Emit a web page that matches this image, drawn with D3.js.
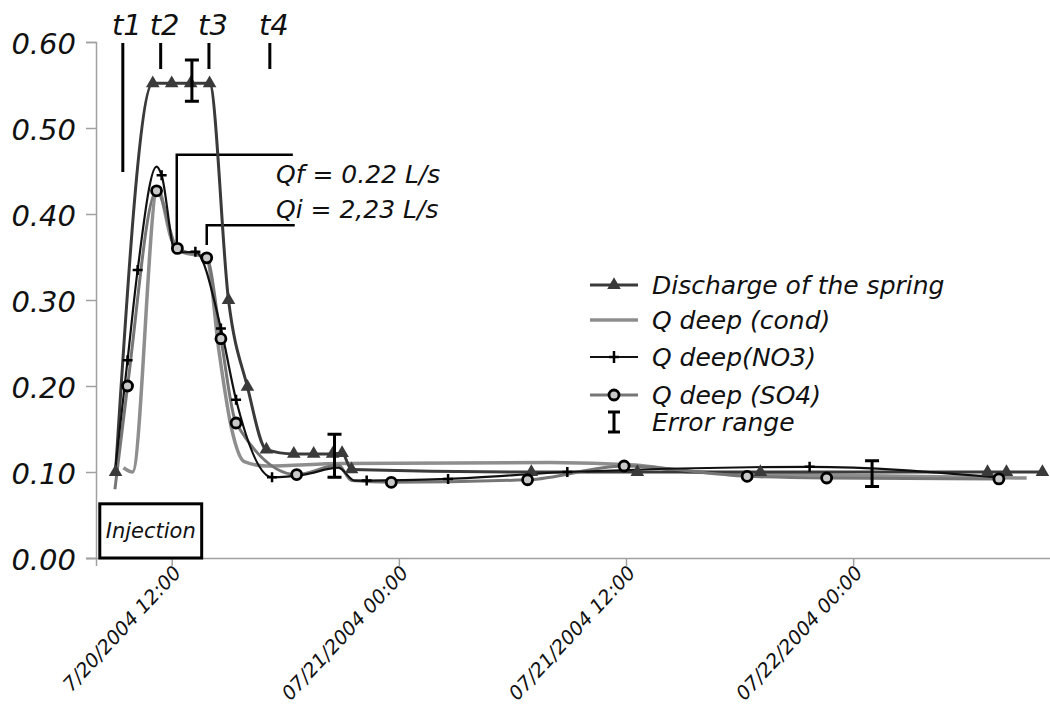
<!DOCTYPE html>
<html lang="en">
<head>
<meta charset="utf-8">
<title>Discharge of the spring</title>
<script src="https://cdn.jsdelivr.net/npm/d3@7"></script>
<style>
  body { margin: 0; background: #fff; }
  text { font-family: "DejaVu Sans", sans-serif; font-style: italic; fill: #111; }
</style>
</head>
<body>
<div id="chart"></div>
<script>
// times are "day hh:mm" in July 2004, values in m3/s
var springTime = ["20 09:02", "20 11:00", "20 12:00", "20 13:00", "20 14:00", "20 15:00", "20 16:00",
  "20 17:00", "20 18:27", "20 19:30", "20 20:30", "20 21:00", "20 21:30", "21 07:00", "21 12:36",
  "21 19:06", "22 07:06", "22 08:06", "22 10:00"];
var springVal = [0.100, 0.552, 0.552, 0.552, 0.552, 0.300, 0.199, 0.126, 0.121, 0.121, 0.121, 0.122,
  0.103, 0.100, 0.100, 0.100, 0.100, 0.100, 0.100];

var condTime = ["20 09:27", "20 09:56", "20 11:15", "20 12:00", "20 12:40", "20 13:50", "20 14:30",
  "20 15:10", "20 15:50", "20 17:00", "20 21:00", "21 08:00", "21 12:30", "21 15:30", "22 00:00", "22 09:10"];
var condVal = [0.105, 0.100, 0.430, 0.370, 0.355, 0.350, 0.240, 0.150, 0.112, 0.107, 0.110, 0.111,
  0.108, 0.100, 0.096, 0.093];

var no3Time = ["20 09:00", "20 09:40", "20 10:12", "20 11:12", "20 11:28", "20 12:12", "20 13:15",
  "20 14:36", "20 15:24", "20 17:18", "20 19:00", "20 20:48", "20 21:40", "20 22:18", "21 02:36",
  "21 08:54", "21 21:42", "22 07:30"];
var no3Val = [0.100, 0.230, 0.335, 0.455, 0.445, 0.355, 0.356, 0.267, 0.184, 0.094, 0.097, 0.105,
  0.090, 0.090, 0.092, 0.100, 0.106, 0.094];
var no3Mark = [0, 1, 1, 0, 1, 0, 1, 1, 1, 1, 0, 0, 0, 1, 1, 1, 1, 0];

var so4Time = ["20 09:00", "20 09:40", "20 11:12", "20 12:18", "20 13:51", "20 14:36", "20 15:24",
  "20 18:36", "20 20:48", "20 21:30", "20 23:36", "21 06:48", "21 11:54", "21 18:24", "21 22:36", "22 07:42"];
var so4Val = [0.080, 0.200, 0.427, 0.360, 0.349, 0.255, 0.157, 0.097, 0.108, 0.090, 0.088, 0.091,
  0.107, 0.095, 0.093, 0.092];
var so4Mark = [0, 1, 1, 1, 1, 1, 1, 1, 0, 0, 1, 1, 1, 1, 1, 1];

// error range: time, centre, half width
var errTime = ["20 13:04", "20 20:36", "22 01:00"];
var errVal = [0.555, 0.119, 0.098];
var errHalf = [0.024, 0.025, 0.015];

var tLabels = ["t1", "t2", "t3", "t4"];
var tTime = ["20 09:25", "20 11:25", "20 13:58", "20 17:11"];

var yTicks = [0, 0.1, 0.2, 0.3, 0.4, 0.5, 0.6];
var xTicks = ["20 08:00", "20 12:00", "21 00:00", "21 12:00", "22 00:00"];
var xTickLabels = ["", "7/20/2004 12:00", "07/21/2004 00:00", "07/21/2004 12:00", "07/22/2004 00:00"];

var legendNames = ["Discharge of the spring", "Q deep (cond)", "Q deep(NO3)", "Q deep (SO4)", "Error range"];

var parse = function (s) { return d3.timeParse("%Y-%m-%d %H:%M")("2004-07-" + s); };
function zip(ts, vs, ms) {
  return ts.map(function (t, i) { return { t: parse(t), v: vs[i], m: ms ? ms[i] : 1 }; });
}
var spring = zip(springTime, springVal);
var cond = zip(condTime, condVal);
var no3 = zip(no3Time, no3Val, no3Mark);
var so4 = zip(so4Time, so4Val, so4Mark);

var width = 1050, height = 712;
var svg = d3.select("#chart").append("svg")
  .attr("width", width).attr("height", height);

var x = d3.scaleTime()
  .domain([parse("20 08:00"), parse("22 10:24")])
  .range([96, 1050]);
var y = d3.scaleLinear()
  .domain([0, 0.6])
  .range([558, 42]);

// Y axis
var yAxis = svg.append("g")
  .attr("transform", "translate(96,0)")
  .call(d3.axisLeft(y).tickValues(yTicks).tickSize(10).tickFormat(d3.format(".2f")));
yAxis.select(".domain").attr("stroke", "#a0a0a0").attr("stroke-width", 1.5);
yAxis.selectAll(".tick line").attr("stroke", "#a0a0a0").attr("stroke-width", 1.5);
yAxis.selectAll(".tick text")
  .attr("x", -20).attr("dy", "0.4em")
  .style("font-size", "29px").style("font-family", "DejaVu Sans").style("font-style", "italic").attr("fill", "#111");

// X axis
var xAxis = svg.append("g")
  .attr("transform", "translate(0,558)")
  .call(d3.axisBottom(x).tickValues(xTicks.map(parse)).tickSize(8)
    .tickFormat(function (d, i) { return xTickLabels[i]; }));
xAxis.select(".domain").attr("stroke", "#a0a0a0").attr("stroke-width", 1.5).attr("d", "M86,0.5H1050");
xAxis.selectAll(".tick line").attr("stroke", "#a0a0a0").attr("stroke-width", 1.5);
xAxis.selectAll(".tick text")
  .attr("text-anchor", "end")
  .attr("transform", "translate(5,11) rotate(-47)")
  .attr("x", 0).attr("y", 0).attr("dy", "0.35em")
  .style("font-size", "19.5px").style("font-family", "DejaVu Sans").style("font-style", "italic").attr("fill", "#111");

var curve = d3.curveMonotoneX;
var line = d3.line().x(function (d) { return x(d.t); }).y(function (d) { return y(d.v); }).curve(curve);

// Injection box
svg.append("rect")
  .attr("x", x(parse("20 08:12"))).attr("y", y(0.063))
  .attr("width", x(parse("20 13:35")) - x(parse("20 08:12")))
  .attr("height", y(0) - y(0.063))
  .attr("fill", "#fff").attr("stroke", "#000").attr("stroke-width", 3);
svg.append("text")
  .attr("x", (x(parse("20 08:12")) + x(parse("20 13:35"))) / 2)
  .attr("y", (y(0) + y(0.063)) / 2).attr("dy", "0.36em")
  .attr("text-anchor", "middle").style("font-size", "21px")
  .text("Injection");

// t markers
svg.selectAll(".tline").data(tTime).enter().append("line")
  .attr("x1", function (d) { return x(parse(d)); })
  .attr("x2", function (d) { return x(parse(d)); })
  .attr("y1", 43)
  .attr("y2", function (d, i) { return i === 0 ? 172 : 69; })
  .attr("stroke", "#000").attr("stroke-width", 3);
svg.selectAll(".tlab").data(tLabels).enter().append("text")
  .attr("x", function (d, i) { return x(parse(tTime[i])) + 4; })
  .attr("y", 35)
  .attr("text-anchor", "middle").style("font-size", "29px")
  .text(function (d) { return d; });

// leader lines for Qf / Qi
svg.append("path")
  .attr("d", "M" + x(parse("20 12:16")) + "," + y(0.36) + "V" + y(0.469) + "H" + x(parse("20 18:24")))
  .attr("fill", "none").attr("stroke", "#000").attr("stroke-width", 2.5);
svg.append("path")
  .attr("d", "M" + x(parse("20 13:51")) + "," + y(0.364) + "V" + y(0.387) + "H" + x(parse("20 18:30")))
  .attr("fill", "none").attr("stroke", "#000").attr("stroke-width", 2.5);
svg.append("text").attr("x", 276).attr("y", 183).style("font-size", "25px").text("Qf = 0.22 L/s");
svg.append("text").attr("x", 276).attr("y", 218).style("font-size", "25px").text("Qi = 2,23 L/s");

// series lines
svg.append("path").datum(cond).attr("d", line)
  .attr("fill", "none").attr("stroke", "#8e8e8e").attr("stroke-width", 3.5);
svg.append("path").datum(spring).attr("d", line)
  .attr("fill", "none").attr("stroke", "#3a3a3a").attr("stroke-width", 3);
svg.append("path").datum(so4).attr("d", line)
  .attr("fill", "none").attr("stroke", "#767676").attr("stroke-width", 3);
svg.append("path").datum(no3).attr("d", line)
  .attr("fill", "none").attr("stroke", "#111").attr("stroke-width", 2.2);

// markers
var tri = d3.symbol(d3.symbolTriangle, 80);
svg.selectAll(".tri").data(spring).enter().append("path")
  .attr("d", tri)
  .attr("transform", function (d) { return "translate(" + x(d.t) + "," + y(d.v) + ")"; })
  .attr("fill", "#3a3a3a");
svg.selectAll(".plus").data(no3.filter(function (d) { return d.m; })).enter().append("path")
  .attr("d", "M-5,0H5M0,-5V5")
  .attr("transform", function (d) { return "translate(" + x(d.t) + "," + y(d.v) + ")"; })
  .attr("stroke", "#000").attr("stroke-width", 2.5);
svg.selectAll(".circ").data(so4.filter(function (d) { return d.m; })).enter().append("circle")
  .attr("cx", function (d) { return x(d.t); })
  .attr("cy", function (d) { return y(d.v); })
  .attr("r", 5)
  .attr("fill", "#c8c8c8").attr("stroke", "#000").attr("stroke-width", 2.8);

// error ranges
var errs = errTime.map(function (t, i) { return { t: parse(t), v: errVal[i], e: errHalf[i] }; });
svg.selectAll(".err").data(errs).enter().append("path")
  .attr("d", function (d) {
    var cx = x(d.t), y0 = y(d.v - d.e), y1 = y(d.v + d.e);
    return "M" + cx + "," + y0 + "V" + y1 + "M" + (cx - 7) + "," + y0 + "H" + (cx + 7) +
      "M" + (cx - 7) + "," + y1 + "H" + (cx + 7);
  })
  .attr("fill", "none").attr("stroke", "#000").attr("stroke-width", 3);

// legend
var lg = svg.append("g").attr("transform", "translate(590,0)");
var rowY = [285, 320, 357, 395, 422];
lg.selectAll("text").data(legendNames).enter().append("text")
  .attr("x", 62).attr("y", function (d, i) { return rowY[i]; }).attr("dy", "0.36em")
  .style("font-size", "25px")
  .text(function (d) { return d; });
var lstyles = [["#3a3a3a", 3], ["#8e8e8e", 3.5], ["#111", 2.2], ["#767676", 3]];
lstyles.forEach(function (s, i) {
  lg.append("line").attr("x1", 0).attr("x2", 48).attr("y1", rowY[i]).attr("y2", rowY[i])
    .attr("stroke", s[0]).attr("stroke-width", s[1]);
});
lg.append("path").attr("d", tri).attr("transform", "translate(24," + rowY[0] + ")").attr("fill", "#3a3a3a");
lg.append("path").attr("d", "M-5,0H5M0,-6V6").attr("transform", "translate(24," + rowY[2] + ")")
  .attr("stroke", "#000").attr("stroke-width", 2.5);
lg.append("circle").attr("cx", 24).attr("cy", rowY[3]).attr("r", 5)
  .attr("fill", "#c8c8c8").attr("stroke", "#000").attr("stroke-width", 2.8);
lg.append("path").attr("d", "M24," + (rowY[4] - 10) + "V" + (rowY[4] + 10) + "M18," + (rowY[4] - 10) + "H30M18," + (rowY[4] + 10) + "H30")
  .attr("fill", "none").attr("stroke", "#000").attr("stroke-width", 3);
</script>
</body>
</html>
